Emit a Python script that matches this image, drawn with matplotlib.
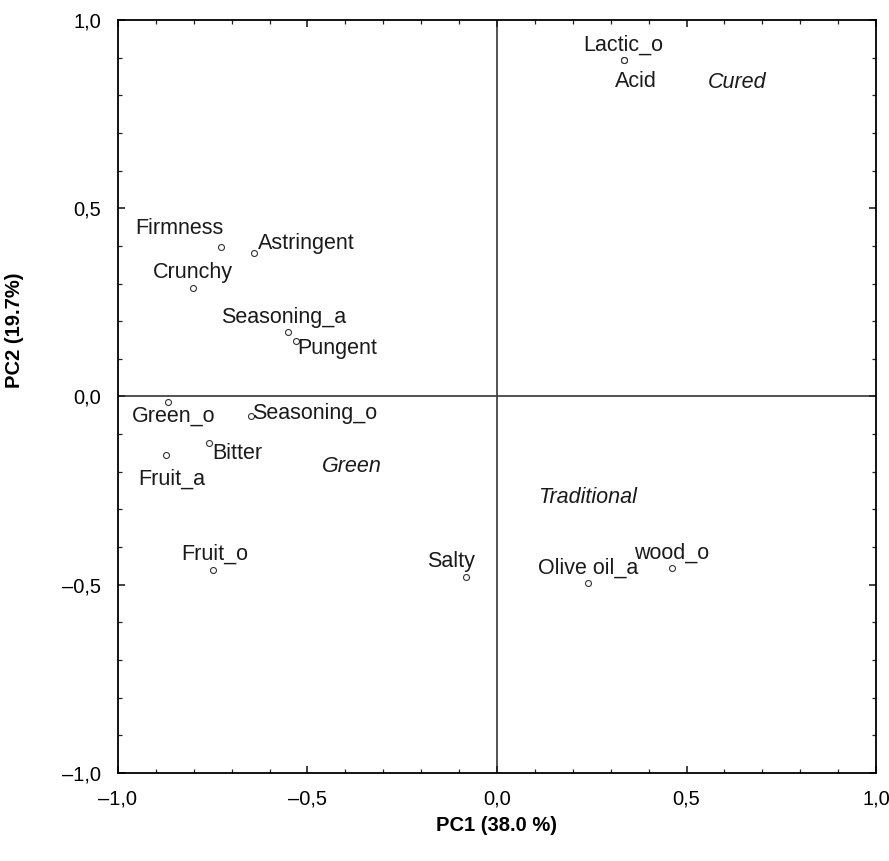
import matplotlib.pyplot as plt
from matplotlib.ticker import MultipleLocator, FuncFormatter

plt.rcParams["font.family"] = ["Liberation Sans", "DejaVu Sans"]

# PCA loadings (PC1, PC2)
atributos = ["Lactic_o", "Acid", "Firmness", "Astringent", "Crunchy", "Seasoning_a",
             "Pungent", "Green_o", "Seasoning_o", "Bitter", "Fruit_a", "Fruit_o",
             "Salty", "Olive oil_a", "wood_o"]
pc1 = [0.335, 0.335, -0.728, -0.641, -0.802, -0.551, -0.530, -0.868, -0.649,
       -0.760, -0.873, -0.749, -0.082, 0.240, 0.462]
pc2 = [0.894, 0.894, 0.397, 0.381, 0.288, 0.171, 0.147, -0.015, -0.052,
       -0.124, -0.155, -0.461, -0.479, -0.495, -0.455]

# grupos de aceitunas
grupos = ["Cured", "Green", "Traditional"]
grupos_x = [0.557, -0.462, 0.108]
grupos_y = [0.835, -0.185, -0.267]

# desplazamiento de etiquetas (pixeles) y alineación
offsets = [(-1, 15, "center"), (12, -22, "center"), (2, 19, "right"), (4, 10, "left"),
           (-40, 16, "left"), (-67, 15, "left"), (1, -7, "left"), (-36, -14, "left"),
           (1, 3, "left"), (3, -10, "left"), (-28, -24, "left"), (-32, 16, "left"),
           (-39, 15, "left"), (-50, 15, "left"), (-38, 15, "left")]

fig = plt.figure(figsize=(8.89, 8.61), dpi=100)
ax = fig.add_axes([0.1327, 0.1022, 0.8527, 0.8746])

ax.axhline(0, color="#444444", lw=1.3, zorder=1)
ax.axvline(0, color="#444444", lw=1.3, zorder=1)

ax.plot(pc1, pc2, "o", ms=4.3, mfc="white", mec="#333333", mew=0.8, zorder=3)

for nombre, x, y, (dx, dy, ha) in zip(atributos, pc1, pc2, offsets):
    ax.annotate(nombre, (x, y), xytext=(dx, dy), textcoords="offset pixels",
                ha=ha, va="center", fontsize=15.5, color="#1a1a1a")

for g, x, y in zip(grupos, grupos_x, grupos_y):
    ax.text(x, y, g, fontsize=15.5, style="italic", ha="left", va="center", color="#1a1a1a")

ax.set_xlim(-1, 1)
ax.set_ylim(-1, 1)

fmt = FuncFormatter(lambda v, p: f"{v:.1f}".replace(".", ",").replace("-", "\u2013"))
for eje in (ax.xaxis, ax.yaxis):
    eje.set_major_locator(MultipleLocator(0.5))
    eje.set_minor_locator(MultipleLocator(0.1))
    eje.set_major_formatter(fmt)

ax.tick_params(which="both", direction="in", top=True, right=True, color="#222222")
ax.tick_params(which="major", length=5, width=1.2, labelsize=14.5, pad=12)
ax.tick_params(which="minor", length=3, width=0.9)

for s in ax.spines.values():
    s.set_linewidth(1.3)

ax.set_xlabel("PC1 (38.0 %)", fontsize=14.5, fontweight="bold", va="center")
ax.set_ylabel("PC2 (19.7%)", fontsize=14.5, fontweight="bold", va="center")
ax.xaxis.set_label_coords(0.5, -0.070)
ax.yaxis.set_label_coords(-0.137, 0.588)

fig.savefig("out.png", dpi=100)
